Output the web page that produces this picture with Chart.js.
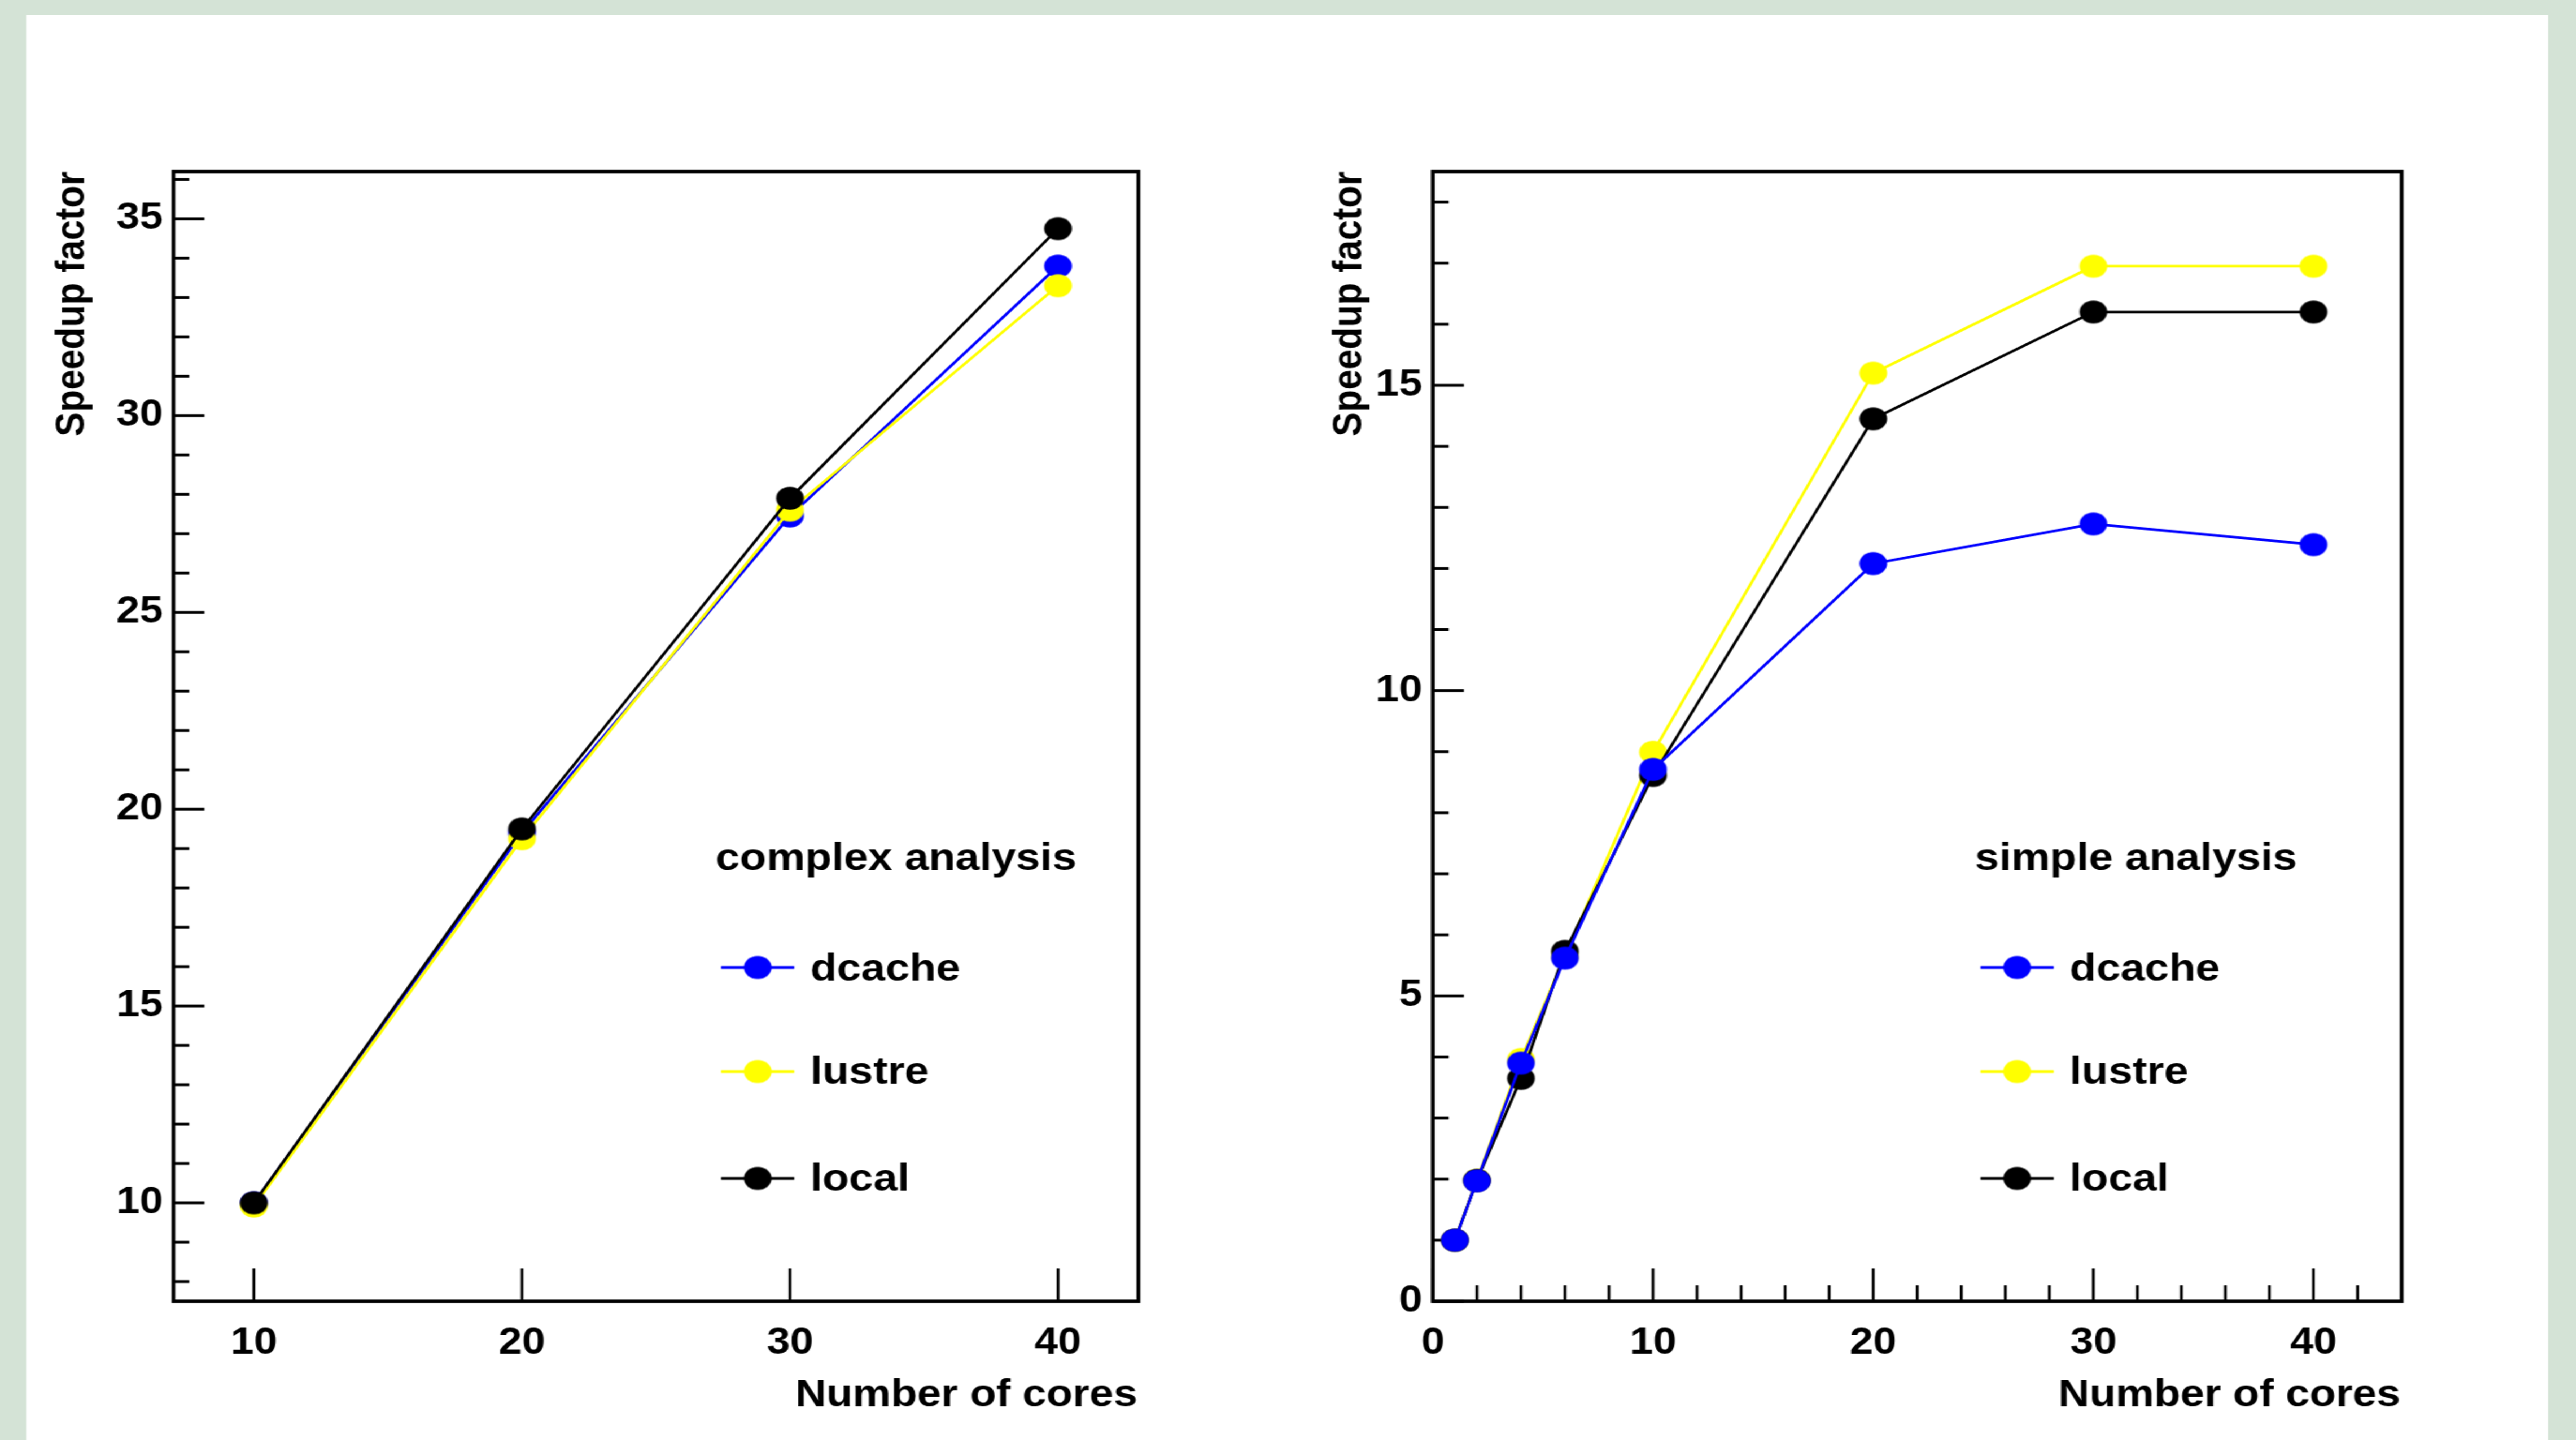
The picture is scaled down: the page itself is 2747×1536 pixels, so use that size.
<!DOCTYPE html>
<html>
<head>
<meta charset="utf-8">
<script src="https://cdn.jsdelivr.net/npm/chart.js@4.4.1/dist/chart.umd.min.js"></script>
<style>
html,body{margin:0;padding:0;width:2747px;height:1536px;overflow:hidden;background:#d4e3d6;}
#stage{position:absolute;left:0;top:0;width:2453px;height:1536px;transform:scaleX(1.12);transform-origin:0 0;}
#panel{position:absolute;left:25px;top:16px;width:2401px;height:1520px;background:#ffffff;}
canvas{position:absolute;top:0;}
</style>
</head>
<body>
<div id="stage">
  <div id="panel"></div>
  <canvas id="cL" width="1223" height="1536" style="left:0px"></canvas>
  <canvas id="cR" width="1230" height="1536" style="left:1223px"></canvas>
</div>
<script>
// ---------------- data ----------------
const coresComplex   = [10, 20, 30, 40];
const complexDcache  = [10.0, 19.4, 27.45, 33.8];
const complexLustre  = [9.92, 19.25, 27.6, 33.3];
const complexLocal   = [10.0, 19.5, 27.9, 34.75];

const coresSimple    = [1, 2, 4, 6, 10, 20, 30, 40];
const simpleDcache   = [1.0, 1.97, 3.9, 5.62, 8.71, 12.08, 12.73, 12.39];
const simpleLustre   = [1.0, 1.98, 3.96, 5.65, 8.99, 15.2, 16.95, 16.95];
const simpleLocal    = [1.0, 1.98, 3.65, 5.73, 8.61, 14.45, 16.2, 16.2];

const seriesNames    = ['dcache', 'lustre', 'local'];
const seriesColors   = ['#0000ff', '#ffff00', '#000000'];

const complexXTicks  = [10, 20, 30, 40];
const complexYTicks  = [10, 15, 20, 25, 30, 35];
const simpleXTicks   = [0, 10, 20, 30, 40];
const simpleYTicks   = [0, 5, 10, 15];

const xTitle = 'Number of cores';
const yTitle = 'Speedup factor';
const legendTitleComplex = 'complex analysis';
const legendTitleSimple  = 'simple analysis';

// ---------------- helpers ----------------
const S = 1.12; // horizontal stretch of the stage
const FONT = '"Liberation Sans", Arial, Helvetica, sans-serif';

function pts(xs, ys){ return xs.map((x,i)=>({x:x, y:ys[i]})); }

function dot(color){
  const c = document.createElement('canvas');
  const rx = 13.2, ry = 12.2;
  c.width = Math.ceil(rx*2)+2; c.height = Math.ceil(ry*2)+2;
  const g = c.getContext('2d');
  g.fillStyle = color;
  g.beginPath();
  g.ellipse(c.width/2, c.height/2, rx, ry, 0, 0, Math.PI*2);
  g.fill();
  return c;
}
const dots = seriesColors.map(dot);

function makeDecor(cfg){
  return {
    id: 'decor',
    beforeDatasetsDraw(chart){
      const ctx = chart.ctx, a = chart.chartArea;
      const xs = chart.scales.x, ys = chart.scales.y;
      ctx.save();
      ctx.strokeStyle = '#000';
      // y ticks (inside the frame)
      ctx.lineWidth = 3;
      for (let v = Math.ceil(ys.min); v <= ys.max + 1e-9; v += cfg.yMinorStep){
        const major = cfg.yTicks.indexOf(v) >= 0;
        const len = major ? 29.5 : 15;
        const py = ys.getPixelForValue(v);
        ctx.beginPath(); ctx.moveTo(a.left, py); ctx.lineTo(a.left + len, py); ctx.stroke();
      }
      // x ticks
      ctx.lineWidth = 2.7;
      const xStep = cfg.xMinorStep || 10;
      for (let v = Math.ceil(xs.min / xStep) * xStep; v <= xs.max + 1e-9; v += xStep){
        const major = cfg.xTicks.indexOf(v) >= 0;
        if (!major && !cfg.xMinorStep) continue;
        const len = major ? 35 : 17;
        const px = xs.getPixelForValue(v);
        ctx.beginPath(); ctx.moveTo(px, a.bottom); ctx.lineTo(px, a.bottom - len); ctx.stroke();
      }
      // frame
      ctx.lineWidth = 3.7;
      ctx.strokeRect(a.left, a.top, a.right - a.left, a.bottom - a.top);
      ctx.restore();
    },
    afterDraw(chart){
      const ctx = chart.ctx, a = chart.chartArea;
      ctx.save();
      ctx.fillStyle = '#000';
      // x title
      ctx.font = 'bold 41px ' + FONT;
      ctx.textAlign = 'right';
      ctx.textBaseline = 'alphabetic';
      ctx.fillText(xTitle, a.right - 1, 1500);
      // y title
      ctx.save();
      ctx.translate(a.left - cfg.yTitleOff / S, a.top);
      ctx.rotate(-Math.PI/2);
      ctx.textAlign = 'right';
      ctx.font = 'bold 38.8px ' + FONT;
      ctx.fillText(yTitle, 0, 0);
      ctx.restore();
      // legend
      ctx.font = 'bold 41.5px ' + FONT;
      ctx.textAlign = 'left';
      ctx.fillText(cfg.legendTitle, a.left + 578 / S, 928);
      const cy = [1032, 1143, 1257];
      const by = [1046, 1156, 1270];
      for (let i = 0; i < seriesNames.length; i++){
        ctx.strokeStyle = seriesColors[i];
        ctx.lineWidth = 3;
        ctx.beginPath();
        ctx.moveTo(a.left + 584 / S, cy[i]);
        ctx.lineTo(a.left + 662 / S, cy[i]);
        ctx.stroke();
        const d = dots[i];
        ctx.drawImage(d, a.left + 623 / S - d.width/2, cy[i] - d.height/2);
        ctx.fillStyle = '#000';
        ctx.fillText(seriesNames[i], a.left + 679 / S, by[i]);
      }
      ctx.restore();
    }
  };
}

function dataset(i, xs, ys, order){
  return {
    label: seriesNames[i],
    data: pts(xs, ys),
    borderColor: seriesColors[i],
    backgroundColor: seriesColors[i],
    borderWidth: 2.8,
    pointStyle: dots[i],
    pointRadius: 12,
    pointHoverRadius: 12,
    tension: 0,
    fill: false,
    order: order
  };
}

function axisTicks(padding){
  return {
    autoSkip: false, maxRotation: 0, padding: padding, color: '#000',
    font: {family: FONT, size: 40, weight: 'bold'},
    callback: v => String(v)
  };
}

function makeChart(id, opts){
  return new Chart(document.getElementById(id), {
    type: 'line',
    data: { datasets: opts.datasets },
    options: {
      responsive: false,
      animation: false,
      devicePixelRatio: 1,
      events: [],
      layout: { padding: { left: opts.padLeft, right: opts.padRight, top: 183, bottom: 48 } },
      plugins: { legend: {display: false}, tooltip: {enabled: false}, title: {display: false} },
      scales: {
        x: {
          type: 'linear', min: opts.xMin, max: opts.xMax,
          grid: {display: false, drawTicks: false}, border: {display: false},
          ticks: axisTicks(21),
          afterBuildTicks: s => { s.ticks = opts.xTicks.map(v => ({value: v})); },
          afterFit: s => { s.height = 100; }
        },
        y: {
          type: 'linear', min: opts.yMin, max: opts.yMax,
          grid: {display: false, drawTicks: false}, border: {display: false},
          ticks: axisTicks(10),
          afterBuildTicks: s => { s.ticks = opts.yTicks.map(v => ({value: v})); },
          afterFit: s => { s.width = 100; }
        }
      }
    },
    plugins: [makeDecor(opts.decor)]
  });
}

makeChart('cL', {
  datasets: [
    dataset(0, coresComplex, complexDcache, 2),
    dataset(1, coresComplex, complexLustre, 1),
    dataset(2, coresComplex, complexLocal, 0)
  ],
  padLeft: 185 / S - 100, padRight: 1223 - 1214 / S,
  xMin: 7, xMax: 43, yMin: 7.5, yMax: 36.2,
  xTicks: complexXTicks, yTicks: complexYTicks,
  decor: { xTicks: complexXTicks, yTicks: complexYTicks, yMinorStep: 1, xMinorStep: 0,
           yTitleOff: 95, legendTitle: legendTitleComplex }
});

makeChart('cR', {
  datasets: [
    dataset(0, coresSimple, simpleDcache, 0),
    dataset(1, coresSimple, simpleLustre, 2),
    dataset(2, coresSimple, simpleLocal, 1)
  ],
  padLeft: 1528 / S - 1223 - 100, padRight: 1230 - (2561 / S - 1223),
  xMin: 0, xMax: 44, yMin: 0, yMax: 18.5,
  xTicks: simpleXTicks, yTicks: simpleYTicks,
  decor: { xTicks: simpleXTicks, yTicks: simpleYTicks, yMinorStep: 1, xMinorStep: 2,
           yTitleOff: 76, legendTitle: legendTitleSimple }
});
</script>
</body>
</html>
